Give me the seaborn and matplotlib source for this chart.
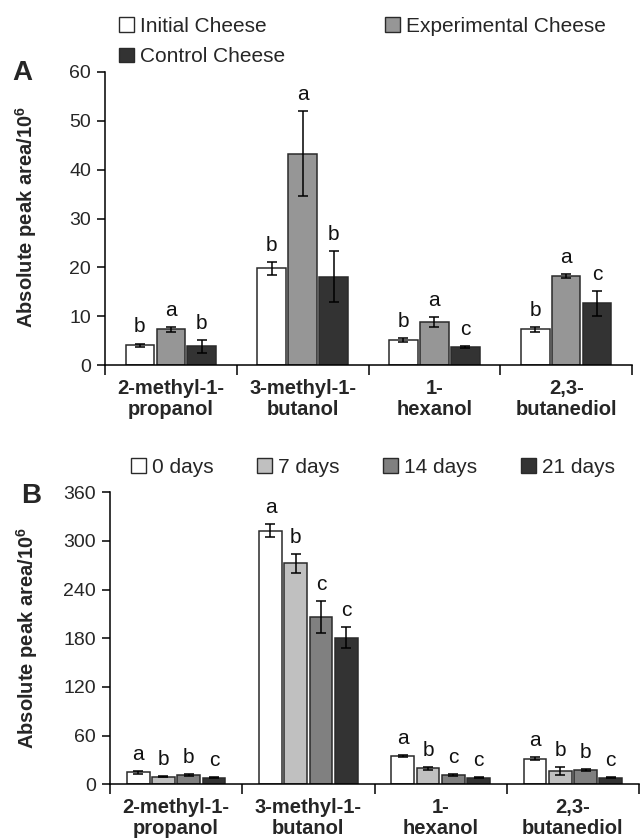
import numpy as np
import pandas as pd
import matplotlib
matplotlib.use("Agg")
import matplotlib.pyplot as plt
from matplotlib.patches import Patch
import seaborn as sns

# ---------------- data ----------------
compounds = ["2-methyl-1-\npropanol", "3-methyl-1-\nbutanol", "1-\nhexanol", "2,3-\nbutanediol"]

# Panel A
groups_a = ["Initial Cheese", "Experimental Cheese", "Control Cheese"]
initial = [4.0, 19.8, 5.1, 7.3]
initial_err = [0.4, 1.3, 0.4, 0.5]
initial_sig = ["b", "b", "b", "b"]
experimental = [7.3, 43.3, 8.8, 18.3]
experimental_err = [0.5, 8.7, 1.0, 0.4]
experimental_sig = ["a", "a", "a", "a"]
control = [3.8, 18.1, 3.6, 12.6]
control_err = [1.3, 5.3, 0.2, 2.5]
control_sig = ["b", "b", "c", "c"]
colors_a = ["#ffffff", "#969696", "#333333"]

# Panel B
groups_b = ["0 days", "7 days", "14 days", "21 days"]
d0 = [14.8, 312.7, 34.9, 31.6]
d0_err = [1.5, 8.4, 1.5, 2.0]
d0_sig = ["a", "a", "a", "a"]
d7 = [9.5, 272.5, 19.7, 16.0]
d7_err = [1.0, 11.7, 2.0, 4.8]
d7_sig = ["b", "b", "b", "b"]
d14 = [11.5, 206.3, 11.5, 17.2]
d14_err = [1.0, 19.7, 0.8, 1.2]
d14_sig = ["b", "c", "c", "b"]
d21 = [8.2, 180.8, 8.2, 8.2]
d21_err = [0.5, 13.0, 0.5, 0.5]
d21_sig = ["c", "c", "c", "c"]
colors_b = ["#ffffff", "#c0c0c0", "#808080", "#333333"]

yticks_a = [0, 10, 20, 30, 40, 50, 60]
yticks_b = [0, 60, 120, 180, 240, 300, 360]

# ---------------- style ----------------
sns.set_theme(style="white")
plt.rcParams["font.family"] = ["Liberation Sans", "DejaVu Sans"]
plt.rcParams["mathtext.fontset"] = "custom"
plt.rcParams["mathtext.bf"] = "Liberation Sans:bold"
plt.rcParams["mathtext.rm"] = "Liberation Sans"

EDGE = "#2a2a2a"


def build_df(groups, values, errs, sigs):
    rows = []
    for g, v, e, s in zip(groups, values, errs, sigs):
        for c, vv, ee, ss in zip(compounds, v, e, s):
            rows.append({"compound": c, "group": g, "value": vv, "err": ee, "sig": ss})
    return pd.DataFrame(rows)


def draw_panel(ax, df, groups, colors, width, gap, yticks, errs, sigs):
    sns.barplot(data=df, x="compound", y="value", hue="group", order=compounds,
                hue_order=groups, palette=colors, saturation=1, width=width, gap=gap,
                edgecolor=EDGE, linewidth=1.1, errorbar=None, legend=False, ax=ax)
    for cont, e_list, s_list in zip(ax.containers, errs, sigs):
        xs = [p.get_x() + p.get_width() / 2 for p in cont.patches]
        hs = [p.get_height() for p in cont.patches]
        ax.errorbar(xs, hs, yerr=e_list, fmt="none", ecolor="black",
                    elinewidth=1.1, capsize=3.6, capthick=1.1, zorder=5)
        for x, h, e, s in zip(xs, hs, e_list, s_list):
            ax.annotate(s, (x, h + e), xytext=(0, 8), textcoords="offset points",
                        ha="center", va="baseline", fontsize=15, color="#111111")
    ax.set_xlim(-0.5, 3.5)
    ax.set_ylim(yticks[0], yticks[-1])
    ax.set_yticks(yticks)
    ax.set_yticklabels([str(t) for t in yticks], fontsize=14)
    # boundaries as major ticks, labels on minor ticks
    ax.set_xticks([-0.5, 0.5, 1.5, 2.5, 3.5])
    ax.set_xticklabels([])
    ax.set_xticks([0, 1, 2, 3], minor=True)
    ax.set_xticklabels(compounds, minor=True, fontsize=14.5, fontweight="bold",
                       linespacing=1.15)
    ax.tick_params(axis="x", which="major", direction="out", length=7, width=1.1,
                   color="black", bottom=True)
    ax.tick_params(axis="x", which="minor", length=0, pad=10, bottom=True)
    ax.tick_params(axis="y", direction="out", length=6, width=1.1, color="black",
                   left=True, pad=4)
    ax.set_xlabel("")
    ax.set_ylabel("")
    for side in ["top", "right"]:
        ax.spines[side].set_visible(False)
    for side in ["left", "bottom"]:
        ax.spines[side].set_color("black")
        ax.spines[side].set_linewidth(1.1)


fig = plt.figure(figsize=(6.4, 8.39), dpi=100)
W, H = 640, 839
ax_a = fig.add_axes([105 / W, 1 - 365 / H, (632 - 105) / W, (365 - 72) / H])
ax_b = fig.add_axes([110 / W, 1 - 784.3 / H, (639 - 110) / W, (784.3 - 492.3) / H])

df_a = build_df(groups_a, [initial, experimental, control],
                [initial_err, experimental_err, control_err],
                [initial_sig, experimental_sig, control_sig])
draw_panel(ax_a, df_a, groups_a, colors_a, 0.705, 0.072, yticks_a,
           [initial_err, experimental_err, control_err],
           [initial_sig, experimental_sig, control_sig])

df_b = build_df(groups_b, [d0, d7, d14, d21],
                [d0_err, d7_err, d14_err, d21_err],
                [d0_sig, d7_sig, d14_sig, d21_sig])
draw_panel(ax_b, df_b, groups_b, colors_b, 0.764, 0.105, yticks_b,
           [d0_err, d7_err, d14_err, d21_err],
           [d0_sig, d7_sig, d14_sig, d21_sig])

ylabel = r"Absolute peak area/10$^{\mathbf{6}}$"
fig.text(26 / W, 1 - 216.7 / H, ylabel, rotation=90, ha="center", va="center",
         fontsize=14.5, fontweight="bold")
fig.text(27 / W, 1 - 638 / H, ylabel, rotation=90, ha="center", va="center",
         fontsize=14.5, fontweight="bold")

fig.text(22.5 / W, 1 - 73.3 / H, "A", ha="center", va="center", fontsize=20,
         fontweight="bold")
fig.text(31 / W, 1 - 496 / H, "B", ha="center", va="center", fontsize=20,
         fontweight="bold")

# legends
handles_a = [Patch(facecolor=c, edgecolor=EDGE, linewidth=1.0) for c in colors_a]
order = [0, 2, 1]
fig.legend([handles_a[i] for i in order], [groups_a[i] for i in order],
           loc="upper left", bbox_to_anchor=(119 / W, 1 - 17 / H), ncol=2,
           frameon=False, fontsize=15, handlelength=0.7, handleheight=0.7,
           handletextpad=0.3, columnspacing=4.8, labelspacing=0.55,
           borderpad=0, borderaxespad=0)

handles_b = [Patch(facecolor=c, edgecolor=EDGE, linewidth=1.0) for c in colors_b]
fig.legend(handles_b, groups_b, loc="upper left", bbox_to_anchor=(131 / W, 1 - 458 / H),
           ncol=4, frameon=False, fontsize=15, handlelength=0.7, handleheight=0.7,
           handletextpad=0.3, columnspacing=2.1, borderpad=0, borderaxespad=0)

fig.savefig("out.png", dpi=100)
